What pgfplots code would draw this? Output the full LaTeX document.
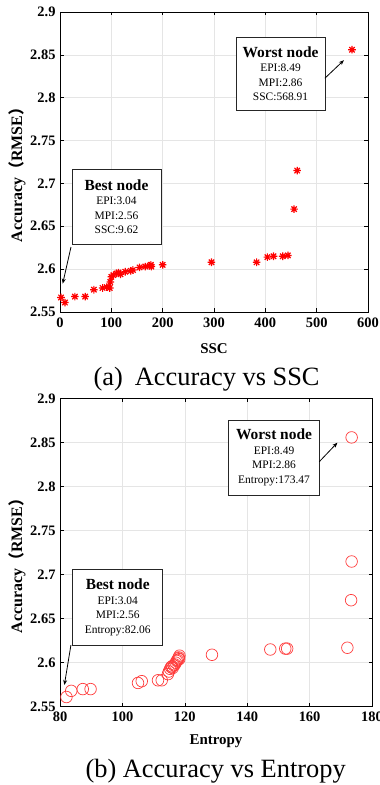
\documentclass[border=0pt]{standalone}
\usepackage{pgfplots}
\pgfplotsset{compat=1.18}
\usepackage{fontspec}
\setmainfont{Liberation Serif}
\newfontfamily\cjk{Noto Sans CJK SC}
\usetikzlibrary{arrows.meta}
\definecolor{cred}{RGB}{255,0,0}
\definecolor{ored}{RGB}{255,60,60}
\pgfdeclareplotmark{ast8}{%
  \pgfpathmoveto{\pgfqpoint{-\pgfplotmarksize}{0pt}}\pgfpathlineto{\pgfqpoint{\pgfplotmarksize}{0pt}}%
  \pgfpathmoveto{\pgfqpoint{0pt}{-\pgfplotmarksize}}\pgfpathlineto{\pgfqpoint{0pt}{\pgfplotmarksize}}%
  \pgfpathmoveto{\pgfqpoint{-0.707\pgfplotmarksize}{-0.707\pgfplotmarksize}}\pgfpathlineto{\pgfqpoint{0.707\pgfplotmarksize}{0.707\pgfplotmarksize}}%
  \pgfpathmoveto{\pgfqpoint{-0.707\pgfplotmarksize}{0.707\pgfplotmarksize}}\pgfpathlineto{\pgfqpoint{0.707\pgfplotmarksize}{-0.707\pgfplotmarksize}}%
  \pgfusepathqstroke}
\pgfplotsset{
  myax/.style={
    scale only axis,
    axis line style={line width=0.8bp},
    tick style={black, line width=0.6bp, major tick length=3.5bp},
    tick align=inside, tick pos=both,
    grid=major, major grid style={gray!20, line width=0.6bp},
    ymin=2.55, ymax=2.9,
    ytick={2.55,2.6,2.65,2.7,2.75,2.8,2.85,2.9},
    yticklabels={2.55,2.6,2.65,2.7,2.75,2.8,2.85,2.9},
    ticklabel style={font=\fontsize{14.5}{14.5}\selectfont\bfseries},
    /pgf/number format/assume math mode=true,
    yticklabel style={xshift=-1bp},
    xticklabel style={yshift=-2bp},
    label style={font=\fontsize{15}{15}\selectfont\bfseries},
    ylabel={Accuracy{\cjk （}RMSE{\cjk ）}},
  },
}
\tikzset{
  boxnode/.style={draw=black!85, line width=0.9bp, fill=white, align=center,
    inner sep=0pt, font=\fontsize{11.5}{14.5}\selectfont},
  arr/.style={-{Stealth[length=5bp,width=4bp]}, line width=0.8bp, black},
}
\begin{document}
\begin{tikzpicture}[x=1bp,y=1bp]
\useasboundingbox (0,0) rectangle (379,785);
% ---------- (a) ----------
\begin{axis}[myax,
  at={(60bp,473bp)}, anchor=south west,
  width=308bp, height=300bp,
  xmin=0, xmax=600, xtick={0,100,200,300,400,500,600},
  xlabel={SSC},
  xlabel style={at={(axis description cs:0.5,0)}, anchor=base, yshift=-42bp},
  ylabel style={at={(axis description cs:-0.140,0.47)}, anchor=center, font=\fontsize{16}{16}\selectfont\bfseries},
]
\addplot[only marks, mark=ast8, mark size=3.8bp, cred, mark options={line width=1.2bp}] coordinates {
(2,2.567) (9.62,2.561) (29,2.568) (49,2.568) (66,2.576) (83,2.578) (91,2.579) (97,2.578)
(98,2.585) (100,2.591) (104,2.593) (110,2.595) (114,2.596) (118,2.594) (127,2.597)
(138,2.598) (142,2.599) (155,2.602) (166,2.603) (175,2.604) (177,2.605) (178,2.603)
(200,2.605) (295,2.608) (383,2.608) (404,2.614) (416,2.615) (434,2.615) (444,2.616)
(456,2.670) (462,2.715) (568.91,2.856)
};
\node[boxnode, minimum width=89bp, minimum height=73bp] at (axis cs:429.6,2.828)
  {{\fontsize{15.5}{17}\selectfont\bfseries Worst node}\\EPI:8.49\\MPI:2.86\\SSC:568.91};
\draw[arr] (axis cs:516,2.8227) -- (axis cs:553,2.8437);
\node[boxnode, minimum width=89bp, minimum height=75bp] at (axis cs:110,2.6727)
  {{\fontsize{15.5}{17}\selectfont\bfseries Best node}\\EPI:3.04\\MPI:2.56\\SSC:9.62};
\draw[arr] (axis cs:21.4,2.6258) -- (axis cs:5.3,2.5831);
\end{axis}
\node[anchor=base west, font=\fontsize{26.5}{26.5}\selectfont] at (90,399) {(a)\hspace{12bp}Accuracy vs SSC};
% ---------- (b) ----------
\begin{axis}[myax,
  at={(60bp,78.3bp)}, anchor=south west,
  width=312bp, height=308bp,
  xmin=80, xmax=180, xtick={80,100,120,140,160,180},
  xlabel={Entropy},
  xlabel style={at={(axis description cs:0.5,0)}, anchor=base, yshift=-38bp},
  ylabel style={at={(axis description cs:-0.138,0.47)}, anchor=center, font=\fontsize{16}{16}\selectfont\bfseries},
]
\addplot[only marks, mark=o, mark size=5.8bp, ored, mark options={line width=0.7bp}] coordinates {
(82.06,2.561) (83.6,2.568) (87.3,2.570) (89.8,2.570) (105.0,2.577) (106.2,2.579)
(111.4,2.580) (112.6,2.580)
(114.6,2.587) (114.9,2.590) (115.3,2.593) (115.6,2.595) (115.9,2.596) (116.1,2.594)
(116.5,2.597) (116.8,2.598) (117.1,2.600) (117.4,2.602) (117.7,2.603) (117.9,2.605)
(118.1,2.606) (118.2,2.604) (118.3,2.608)
(128.7,2.609) (147.4,2.615) (152.2,2.616) (152.8,2.616) (172.1,2.617)
(173.3,2.671) (173.47,2.715) (173.47,2.856)
};
\node[boxnode, minimum width=90.6bp, minimum height=75bp] at (axis cs:148.6,2.8332)
  {{\fontsize{15.5}{17}\selectfont\bfseries Worst node}\\EPI:8.49\\MPI:2.86\\Entropy:173.47};
\draw[arr] (axis cs:163.1,2.8284) -- (axis cs:168.9,2.85);
\node[boxnode, minimum width=90bp, minimum height=75.7bp] at (axis cs:98.5,2.663)
  {{\fontsize{15.5}{17}\selectfont\bfseries Best node}\\EPI:3.04\\MPI:2.56\\Entropy:82.06};
\draw[arr] (axis cs:83.5,2.620) -- (axis cs:81.4,2.5747);
\end{axis}
\node[anchor=base west, font=\fontsize{26.5}{26.5}\selectfont] at (82,7) {(b) Accuracy vs Entropy};
\end{tikzpicture}
\end{document}
